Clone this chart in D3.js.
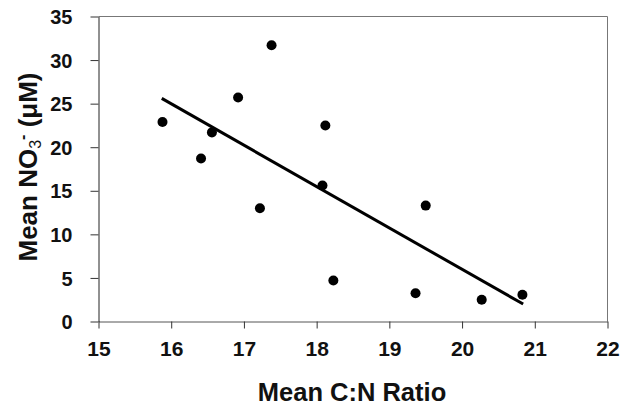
<!DOCTYPE html>
<html><head><meta charset="utf-8">
<script src="https://cdn.jsdelivr.net/npm/d3@7"></script>
<style>body{margin:0;background:#fff}svg{display:block}text{font-family:"Liberation Sans",Arial,sans-serif;font-weight:bold;fill:#111}</style>
</head><body><svg id="c" width="630" height="409"></svg>
<script>
const cnRatio = [15.88, 16.41, 16.56, 16.92, 17.22, 17.38, 18.08, 18.12, 18.23, 19.36, 19.50, 20.27, 20.83];
const nitrate = [22.9, 18.7, 21.7, 25.7, 13.0, 31.7, 15.6, 22.5, 4.7, 3.25, 13.3, 2.5, 3.07];
const fitX = [15.87, 20.84];
const fitY = [25.6, 2.0];
const xTicks = [15, 16, 17, 18, 19, 20, 21, 22];
const yTicks = [0, 5, 10, 15, 20, 25, 30, 35];

const svg = d3.select("#c");
const L = 98.5, R = 607.5, T = 16.5, B = 321.5;
const x = d3.scaleLinear().domain([15, 22]).range([L, R]);
const y = d3.scaleLinear().domain([0, 35]).range([B, T]);

// frame
svg.append("line").attr("x1", L).attr("x2", R).attr("y1", T).attr("y2", T).attr("stroke", "#777").attr("stroke-width", 1);
svg.append("line").attr("x1", R).attr("x2", R).attr("y1", T).attr("y2", B).attr("stroke", "#777").attr("stroke-width", 1);

const xa = svg.append("g").attr("transform", `translate(0,${B})`)
  .call(d3.axisBottom(x).tickValues(xTicks).tickFormat(d3.format("d")).tickSize(7).tickPadding(13).tickSizeOuter(0));
xa.select(".domain").attr("stroke", "#555");
xa.selectAll(".tick line").attr("stroke", "#333");
xa.selectAll("text").style("font-size", "21px").attr("fill", "#111");

const ya = svg.append("g").attr("transform", `translate(${L},0)`)
  .call(d3.axisLeft(y).tickValues(yTicks).tickFormat(d3.format("d")).tickSize(8).tickPadding(18).tickSizeOuter(0));
ya.select(".domain").attr("stroke", "#222");
ya.selectAll(".tick line").attr("stroke", "#333");
ya.selectAll("text").style("font-size", "20px").attr("fill", "#111").attr("dy", "0.36em");

// regression line
svg.append("path").datum(fitX.map((d, i) => [d, fitY[i]]))
  .attr("d", d3.line().x(d => x(d[0])).y(d => y(d[1])))
  .attr("stroke", "#000").attr("stroke-width", 3).attr("fill", "none");

// points
svg.append("g").selectAll("circle").data(cnRatio).join("circle")
  .attr("cx", d => x(d)).attr("cy", (d, i) => y(nitrate[i])).attr("r", 5).attr("fill", "#000");

// titles
svg.append("text").attr("x", 352).attr("y", 401).attr("text-anchor", "middle")
  .style("font-size", "25.5px").text("Mean C:N Ratio");

const yt = svg.append("text").attr("transform", "translate(37,167) rotate(-90)").attr("text-anchor", "middle")
  .style("font-size", "26px");
yt.append("tspan").text("Mean NO");
yt.append("tspan").attr("baseline-shift", "-25%").style("font-size", "16px").style("font-weight", "normal").text("3");
yt.append("tspan").attr("baseline-shift", "55%").style("font-size", "16px").text("-");
yt.append("tspan").text(" (\u03bcM)");
</script></body></html>
